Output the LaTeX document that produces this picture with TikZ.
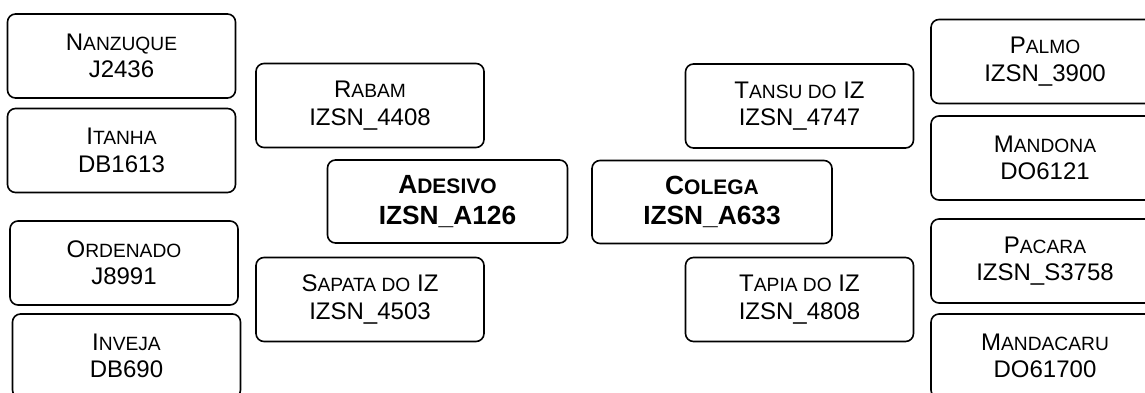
\documentclass[tikz,border=0pt]{standalone}
\usepackage{fontspec}
\setmainfont{Liberation Sans}
\newcommand{\Sc}[2]{#1{\fontsize{19.2}{27.3}\selectfont #2}}
\newcommand{\ScB}[2]{#1{\fontsize{21}{30.7}\selectfont #2}}
\tikzset{
  box/.style={draw=black, line width=1.6pt, rounded corners=8pt, fill=white,
    minimum width=228pt, minimum height=84pt, inner sep=0pt, align=center,
    font=\fontsize{24}{27.3}\selectfont},
  mainbox/.style={box, minimum width=240pt, minimum height=83pt,
    font=\fontsize{26.3}{30.7}\selectfont\bfseries}
}
\begin{document}
\begin{tikzpicture}[x=1pt,y=-1pt]
\useasboundingbox (0,0) rectangle (1145,392);
\clip (0,0) rectangle (1145,392);
\fill[white] (0,0) rectangle (1145,392);
% left column
\node[box] (nanzuque) at (121.5,56) {\Sc{N}{ANZUQUE}\\J2436};
\node[box] (itanha) at (121.5,150.5) {\Sc{I}{TANHA}\\DB1613};
\node[box] (ordenado) at (124,263) {\Sc{O}{RDENADO}\\J8991};
\node[box] (inveja) at (126.5,356) {\Sc{I}{NVEJA}\\DB690};
% second column
\node[box] (rabam) at (370,105.5) {\Sc{R}{ABAM}\\IZSN\_4408};
\node[box] (sapata) at (370,299.5) {\Sc{S}{APATA DO} IZ\\IZSN\_4503};
% centre
\node[mainbox] (adesivo) at (447.5,201.5) {\ScB{A}{DESIVO}\\IZSN\_A126};
\node[mainbox] (colega) at (712,202) {\ScB{C}{OLEGA}\\IZSN\_A633};
% third column
\node[box] (tansu) at (799.5,106) {\Sc{T}{ANSU DO} IZ\\IZSN\_4747};
\node[box] (tapia) at (799.5,299.5) {\Sc{T}{APIA DO} IZ\\IZSN\_4808};
% right column
\node[box] (palmo) at (1045,61.5) {\Sc{P}{ALMO}\\IZSN\_3900};
\node[box] (mandona) at (1045,158) {\Sc{M}{ANDONA}\\DO6121};
\node[box] (pacara) at (1045,261) {\Sc{P}{ACARA}\\IZSN\_S3758};
\node[box] (mandacaru) at (1045,356) {\Sc{M}{ANDACARU}\\DO61700};
\end{tikzpicture}
\end{document}
